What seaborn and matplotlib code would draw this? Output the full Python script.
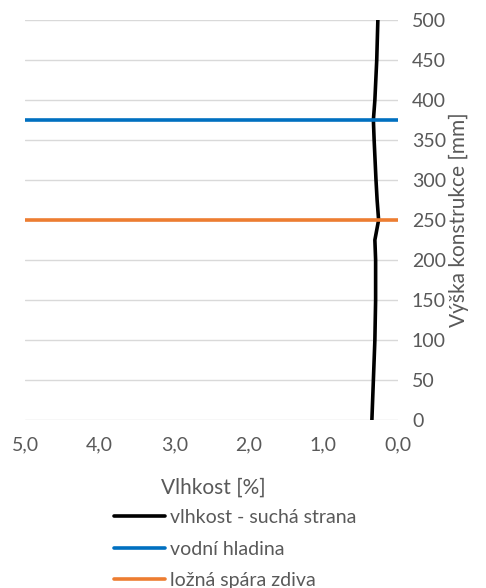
import matplotlib
matplotlib.use('Agg')
import matplotlib.pyplot as plt
import seaborn as sns
import pandas as pd

# data
vyska = [0, 50, 100, 150, 200, 225, 250, 275, 300, 350, 375, 400, 450, 500]
vlhkost = [0.35, 0.33, 0.31, 0.30, 0.30, 0.31, 0.26, 0.28, 0.295, 0.32, 0.33, 0.31, 0.285, 0.27]
vodni_hladina = 375
lozna_spara = 250
x_rozsah = [0.0, 5.0]
x_ticks = [0, 1, 2, 3, 4, 5]
y_ticks = list(range(0, 501, 50))

sns.set_theme(style='white')
plt.rcParams['font.family'] = ['Lato', 'DejaVu Sans']

fig = plt.figure(figsize=(4.86, 5.88), dpi=100)
ax = fig.add_axes([25 / 486, 1 - 420 / 588, 373 / 486, 400 / 588])

df = pd.DataFrame({'x': vlhkost, 'y': vyska})
sns.lineplot(data=df, x='x', y='y', sort=False, estimator=None, orient='y',
             color='black', linewidth=2.6, label='vlhkost - suchá strana', ax=ax)
sns.lineplot(x=x_rozsah, y=[vodni_hladina] * 2, color='#0070C0', linewidth=2.6,
             label='vodní hladina', ax=ax)
sns.lineplot(x=x_rozsah, y=[lozna_spara] * 2, color='#ED7D31', linewidth=2.6,
             label='ložná spára zdiva', ax=ax)

ax.set_xlim(5, 0)
ax.set_ylim(0, 500)
ax.set_xticks(x_ticks)
ax.set_xticklabels([f'{t:.1f}'.replace('.', ',') for t in x_ticks])
ax.set_yticks(y_ticks)
ax.yaxis.tick_right()
ax.yaxis.set_label_position('right')
ax.tick_params(axis='both', length=0, labelsize=14, colors='#595959')
ax.tick_params(axis='x', pad=12)
ax.tick_params(axis='y', pad=10)
ax.grid(axis='y', color='#d9d9d9', linewidth=1)
ax.grid(axis='x', visible=False)
for s in ax.spines.values():
    s.set_visible(False)

ax.set_xlabel('Vlhkost [%]', fontsize=15, color='#595959')
ax.set_ylabel('Výška konstrukce [mm]', fontsize=15, color='#595959', labelpad=2)
ax.xaxis.set_label_coords((398 - 210) / 373, -58 / 400)

leg = ax.legend(loc='upper left', bbox_to_anchor=(89 / 373, -89 / 400), frameon=False,
                fontsize=14, handlelength=2.6, handletextpad=0.3, labelspacing=0.75,
                borderaxespad=0, borderpad=0)
for t in leg.get_texts():
    t.set_color('#595959')

fig.savefig('out.png', dpi=100)
